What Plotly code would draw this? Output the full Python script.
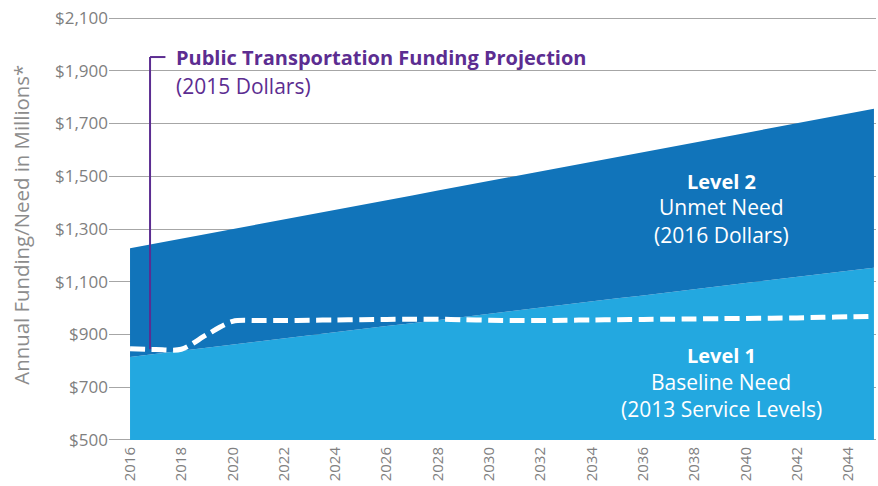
import plotly.graph_objects as go

# ---- data ----
years = list(range(2016, 2046))
# Level 1: Baseline Need (2013 Service Levels), $M
baseline_need = [815, 827, 838, 850, 862, 873, 885, 897, 908, 920, 932, 943, 955,
                 967, 978, 990, 1002, 1013, 1025, 1037, 1048, 1060, 1072, 1083, 1095,
                 1107, 1118, 1130, 1142, 1153]
# Level 2: total need (top of Unmet Need band), $M
level2_need = [1227, 1245, 1263, 1282, 1300, 1318, 1336, 1354, 1373, 1391, 1409, 1427,
               1446, 1464, 1482, 1500, 1519, 1537, 1555, 1573, 1591, 1610, 1628, 1646,
               1664, 1683, 1701, 1719, 1737, 1756]
# Public Transportation Funding Projection (2015 Dollars), $M
funding = [846, 843, 844, 900, 950, 953, 953, 954, 955, 956, 957, 958, 958,
           956, 954, 953, 953, 954, 955, 956, 957, 958, 959, 960, 961,
           962, 963, 965, 967, 969]

y_ticks = [500, 700, 900, 1100, 1300, 1500, 1700, 1900, 2100]
y_tick_labels = ["$500", "$700", "$900", "$1,100", "$1,300", "$1,500", "$1,700", "$1,900", "$2,100"]
x_ticks = list(range(2016, 2046, 2))

DARK = "#1174BA"
LIGHT = "#23A8E0"
PURPLE = "#5C2D91"
GRAY = "#7F7F7F"
FONT = "Open Sans"

floor = [y_ticks[0]] * len(years)

fig = go.Figure()
fig.add_trace(go.Scatter(x=years, y=floor, mode="lines", line=dict(width=0),
                         hoverinfo="skip", showlegend=False))
fig.add_trace(go.Scatter(x=years, y=baseline_need, mode="lines", line=dict(width=0, color=LIGHT),
                         fill="tonexty", fillcolor=LIGHT, hoverinfo="skip", showlegend=False))
fig.add_trace(go.Scatter(x=years, y=level2_need, mode="lines", line=dict(width=0, color=DARK),
                         fill="tonexty", fillcolor=DARK, hoverinfo="skip", showlegend=False))
fig.add_trace(go.Scatter(x=years, y=funding, mode="lines",
                         line=dict(color="white", width=5, dash="15px,6.5px", shape="spline", smoothing=0.8),
                         hoverinfo="skip", showlegend=False))

# annotation pointer for the funding projection
ptr_x = 2016.78
ptr_top = 1952
ptr_bottom = funding[0] + (funding[1] - funding[0]) * (ptr_x - years[0])
fig.add_shape(type="line", x0=ptr_x, x1=ptr_x, y0=ptr_bottom, y1=ptr_top,
              line=dict(color=PURPLE, width=2), layer="above")
fig.add_shape(type="line", x0=ptr_x, x1=ptr_x + 0.6, y0=ptr_top, y1=ptr_top,
              line=dict(color=PURPLE, width=2), layer="above")

ann = []
ann.append(dict(x=ptr_x + 0.95, y=ptr_top, xref="x", yref="y", xanchor="left", yanchor="middle",
                text="<b>Public Transportation Funding Projection</b>", showarrow=False,
                font=dict(family=FONT, size=20, color=PURPLE)))
ann.append(dict(x=ptr_x + 0.95, y=1842, xref="x", yref="y", xanchor="left", yanchor="middle",
                text="(2015 Dollars)", showarrow=False,
                font=dict(family=FONT, size=21, color=PURPLE)))

lx = 2039.05
for txt, yv, sz in [("<b>Level 2</b>", 1482, 20), ("Unmet Need", 1383, 21), ("(2016 Dollars)", 1277, 21),
                    ("<b>Level 1</b>", 822, 20), ("Baseline Need", 720, 21), ("(2013 Service Levels)", 617, 21)]:
    ann.append(dict(x=lx, y=yv, xref="x", yref="y", xanchor="center", yanchor="middle",
                    text=txt, showarrow=False, font=dict(family=FONT, size=sz, color="white")))

ann.append(dict(x=-0.1147, y=0.51, xref="paper", yref="paper", xanchor="center", yanchor="middle",
                textangle=-90, text="Annual Funding/Need in Millions*", showarrow=False,
                font=dict(family=FONT, size=20.4, color="#8C8C8C")))

fig.update_layout(
    width=878, height=486,
    margin=dict(l=109, r=2, t=15, b=43, autoexpand=False),
    paper_bgcolor="white", plot_bgcolor="white",
    annotations=ann,
    xaxis=dict(range=[2015.18, 2045.08], tickmode="array", tickvals=x_ticks,
               ticktext=[str(v) for v in x_ticks], tickangle=-90, showgrid=False,
               zeroline=False, showline=False, ticks="", ticklen=0, automargin=False,
               tickfont=dict(family=FONT, size=15, color=GRAY)),
    yaxis=dict(range=[488.6, 2111.4], tickmode="array", tickvals=y_ticks, ticktext=y_tick_labels,
               showgrid=True, gridcolor="#A6A6A6", gridwidth=1, zeroline=False, showline=False,
               ticks="", automargin=False, ticklabeloverflow="allow",
               tickfont=dict(family=FONT, size=17, color=GRAY)),
)

fig.write_html("out.html", config={"displayModeBar": False},
               post_script="document.body.style.margin='0';")
